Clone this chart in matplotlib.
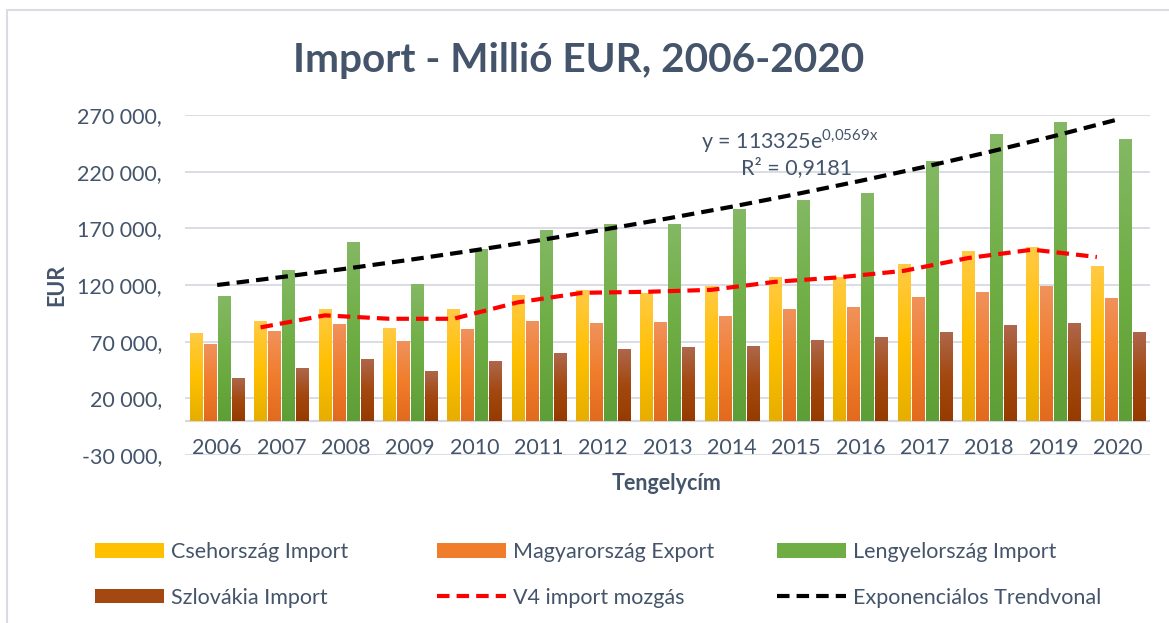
import numpy as np
import matplotlib
matplotlib.use("Agg")
import matplotlib.pyplot as plt
from matplotlib.colors import LinearSegmentedColormap
from matplotlib.patches import Rectangle, Patch
from matplotlib.lines import Line2D

# values (millió EUR)
years = ["2006", "2007", "2008", "2009", "2010", "2011", "2012", "2013",
         "2014", "2015", "2016", "2017", "2018", "2019", "2020"]
cseh_import = [77400, 87900, 98500, 81800, 98500, 110900, 115300, 112600,
               118800, 126800, 126800, 138200, 149400, 152900, 136500]
magyar_export = [67600, 79100, 85300, 70300, 80900, 87900, 86200, 87100,
                 92400, 98500, 100300, 109100, 113200, 118500, 108200]
lengyel_import = [110000, 133000, 157600, 120600, 151000, 168200, 173500, 173500,
                  186800, 194700, 200900, 229100, 252700, 263200, 248500]
szlovak_import = [37600, 46500, 54400, 43800, 52600, 59700, 63200, 65000,
                  65900, 71200, 73800, 78200, 84100, 85900, 78200]
v4_mozgas = [np.nan, 82600, 93200, 90200, 90200, 104700, 113100, 114000,
             115700, 122800, 126800, 132500, 143800, 151200, 144700]
exp_trend = [120000, 127000, 134400, 142300, 150600, 159400, 168800, 178700,
             189100, 200200, 211900, 224300, 237400, 251300, 266100]
ytick_vals = [-30000, 20000, 70000, 120000, 170000, 220000, 270000]
ytick_labels = ["-30 000,", "20 000,", "70 000,", "120 000,", "170 000,", "220 000,", "270 000,"]

TEXT = "#44546A"
GRID = "#D9DDE3"
FS = 15.5

plt.rcParams["font.family"] = ["Lato", "DejaVu Sans"]
plt.rcParams["mathtext.fontset"] = "custom"
plt.rcParams["mathtext.rm"] = "Lato"

W, H = 1169, 623
fig = plt.figure(figsize=(W / 100, H / 100), dpi=100)
ax = fig.add_axes([185 / W, (H - 455) / H, 965 / W, 340 / H])

series = [
    ("Csehország Import", cseh_import, ["#E6AE00", "#FFC000", "#FFCA45"]),
    ("Magyarország Export", magyar_export, ["#E26A1E", "#F07D2C", "#F0925C"]),
    ("Lengyelország Import", lengyel_import, ["#5E9E36", "#6EAE44", "#84B864"]),
    ("Szlovákia Import", szlovak_import, ["#963B00", "#A34810", "#AE674B"]),
]

x = np.arange(len(years))
step = 0.217
bw = 0.194
grad = np.linspace(1, 0, 128)[:, None]
handles = []
for i, (name, vals, cols) in enumerate(series):
    off = (i - 1.5) * step
    bars = ax.bar(x + off, vals, bw, color=cols[1], zorder=2, label=name)
    cmap = LinearSegmentedColormap.from_list(name, cols)
    for r in bars:
        x0, h = r.get_x(), r.get_height()
        ax.imshow(grad, cmap=cmap, extent=(x0, x0 + r.get_width(), 0, h),
                  aspect="auto", zorder=2.1, interpolation="bilinear")
    handles.append(Patch(facecolor=cols[1], edgecolor="none", label=name))

# moving average line sits on the first series' bar positions
l_v4, = ax.plot(x - 1.5 * step, v4_mozgas, color="#FF0000", lw=3.0,
                dashes=(3.0, 1.7), zorder=3, label="V4 import mozgás")
l_tr, = ax.plot(x, exp_trend, color="black", lw=3.0, dashes=(3.0, 1.7),
                zorder=3, label="Exponenciálos Trendvonal")

ax.set_xlim(-0.5, len(years) - 0.5)
ax.set_ylim(-30000, 270000)
ax.set_yticks(ytick_vals, ytick_labels)
ax.set_xticks(x, years)
ax.yaxis.grid(True, color=GRID, lw=1.4, zorder=0)
ax.set_axisbelow(True)
ax.axhline(0, color="#D5D9DF", lw=1.6, zorder=1.5)
for s in ax.spines.values():
    s.set_visible(False)
ax.tick_params(axis="y", length=0, pad=16.5, labelsize=FS, labelcolor=TEXT)
ax.tick_params(axis="x", length=0, pad=-12, labelsize=FS, labelcolor=TEXT)

fig.text(579 / W, 1 - 72 / H, "Import - Millió EUR, 2006-2020", ha="center",
         va="baseline", fontsize=29.2, fontweight="bold", color=TEXT)
fig.text(57 / W, 1 - 285 / H, "EUR", rotation=90, ha="center", va="center",
         fontsize=FS, fontweight="bold", color=TEXT)
fig.text(667 / W, 1 - 484 / H, "Tengelycím", ha="center", va="center",
         fontsize=FS, fontweight="bold", color=TEXT)

fig.text(790 / W, 1 - 141 / H, r"y = 113325e$^{\mathrm{0{,}0569x}}$", ha="center",
         va="center", fontsize=FS, color=TEXT)
fig.text(797 / W, 1 - 168 / H, "R² = 0,9181", ha="center", va="center",
         fontsize=FS, color=TEXT)

# legend: three columns laid out like the original
cols_h = [[handles[0], handles[3]], [handles[1], l_v4], [handles[2], l_tr]]
col_x = [95, 437, 777]
for hs, cx in zip(cols_h, col_x):
    leg = fig.legend(handles=hs, loc="upper left", bbox_to_anchor=(cx / W, 1 - 542 / H),
                     frameon=False, fontsize=FS, labelcolor=TEXT, handlelength=3.2,
                     handleheight=0.65, handletextpad=0.35, labelspacing=1.2,
                     borderpad=0, borderaxespad=0)

fig.add_artist(Rectangle((7 / W, -0.1), 1.2, 1.1 - 10 / H, transform=fig.transFigure,
                         fill=False, edgecolor=GRID, lw=1.5))

fig.savefig("out.png", dpi=100)
